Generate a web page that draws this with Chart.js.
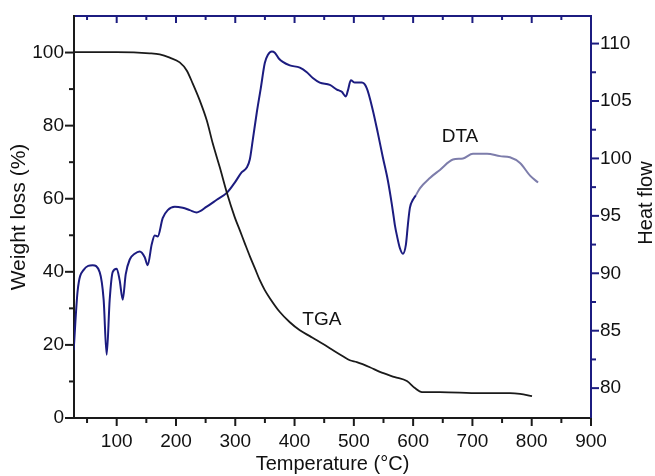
<!DOCTYPE html>
<html>
<head>
<meta charset="utf-8">
<script src="https://cdn.jsdelivr.net/npm/chart.js@4.4.1/dist/chart.umd.min.js"></script>
<style>
  html, body { margin: 0; padding: 0; background: #fff; }
  #wrap { width: 655px; height: 476px; }
</style>
</head>
<body>
<div id="wrap"><canvas id="chart" width="655" height="476"></canvas></div>
<script>
// DTA curve (heat flow, right axis)
const dtaTemp = [27.4, 34.2, 44.3, 59.5, 71.3, 78, 83.1, 88.2, 93.2, 100, 105, 110.2, 115.2, 122,
  130.4, 138.8, 147.3, 152.3, 159, 164.1, 169.2, 177.6, 186.1, 198, 211.4, 223.2, 235, 251.9,
  268.8, 285.7, 299.2, 311, 319.4, 324.5, 329.5, 336.3, 343, 349.8, 354.9, 361.6, 366.7, 373.4,
  380.2, 392, 408.9, 420.7, 430.8, 442.6, 459.5, 471.3, 479.7, 486.5, 489.9, 494.9, 501.7, 513.5,
  521.9, 532, 540.5, 548.9, 557.3, 564.1, 567.5, 569.2, 572.6, 577.6, 582.7, 587.8, 591.1, 594.5,
  599.6, 604.6, 611.4, 628.3, 645.2, 667.2, 684.1, 700.9, 724.6, 746.6, 763.3, 780.3, 797.2, 810.7];
const dtaHeat = [83.3, 88.5, 90.3, 90.7, 90.1, 87.7, 82.9, 87.7, 90.1, 90.4, 89.4, 87.7, 89.9, 91.2,
  91.7, 91.9, 91.4, 90.7, 92.5, 93.3, 93.2, 94.8, 95.5, 95.8, 95.7, 95.5, 95.3, 95.8,
  96.4, 97.0, 97.9, 98.8, 99.2, 99.9, 101.6, 104.0, 106.1, 108.3, 109.0, 109.3, 109.2, 108.7,
  108.4, 108.1, 107.9, 107.5, 107.0, 106.6, 106.4, 106.0, 105.8, 105.4, 105.9, 106.8, 106.6, 106.6,
  106.1, 104.2, 102.2, 100.1, 98.1, 96.0, 94.8, 94.2, 93.3, 92.2, 91.7, 92.5, 94.2, 95.7,
  96.4, 96.8, 97.4, 98.3, 99.0, 99.9, 100.0, 100.4, 100.4, 100.2, 100.1, 99.6, 98.5, 97.9];

// TGA curve (weight loss, left axis)
const tgaTemp = [27.4, 100, 155.7, 172.6, 189.5, 206.3, 218.1, 228.3, 240.1, 252, 262.1, 273.9,
  285.7, 299.2, 307.6, 316.1, 324.5, 333, 341.4, 349.8, 358.3, 375.2, 392, 408.9, 425.8, 437.6,
  459.5, 481.5, 493.2, 505, 527, 543.9, 569.2, 589.5, 603, 614.8, 645.2, 712.7, 763.3, 780.3, 800.5];
const tgaWeight = [100.1, 100.1, 99.8, 99.5, 98.6, 97.3, 95.1, 91.5, 86.9, 81.4, 75.1, 68.6,
  61.7, 54.9, 51.4, 47.8, 44.3, 41.0, 37.7, 35.0, 32.8, 29.0, 26.2, 24.0, 22.4, 21.3,
  19.1, 16.9, 15.8, 15.3, 13.9, 12.6, 11.2, 10.1, 8.2, 7.1, 7.1, 6.8, 6.8, 6.6, 6.0];

// axis ticks
const tempTicks = [100, 200, 300, 400, 500, 600, 700, 800, 900];
const tempMinor = [50, 150, 250, 350, 450, 550, 650, 750, 850];
const weightTicks = [0, 20, 40, 60, 80, 100];
const weightMinor = [10, 30, 50, 70, 90];
const heatTicks = [80, 85, 90, 95, 100, 105, 110];
const heatMinor = [82.5, 87.5, 92.5, 97.5, 102.5, 107.5];

const NAVY = '#1c1c80';
const NAVY_LIGHT = '#7d7dab';
const BLACK = '#1a1a1a';
const FONT = "'Liberation Sans', Arial, Helvetica, sans-serif";

const toPoints = (xs, ys) => xs.map((t, i) => ({ x: t, y: ys[i] }));

// draws the tick marks (major/minor) and the curve labels
const tickMarks = {
    id: 'tickMarks',
    afterDraw(chart) {
        const ctx = chart.ctx;
        const { x, y, y2 } = chart.scales;
        const area = chart.chartArea;
        const line = (x1, y1, x2, y2c) => {
            ctx.beginPath();
            ctx.moveTo(x1, y1);
            ctx.lineTo(x2, y2c);
            ctx.stroke();
        };
        ctx.save();
        ctx.lineWidth = 2;

        // bottom axis, ticks outward
        ctx.strokeStyle = BLACK;
        tempTicks.forEach(v => { const px = x.getPixelForValue(v); line(px, area.bottom, px, area.bottom + 8); });
        tempMinor.forEach(v => { const px = x.getPixelForValue(v); line(px, area.bottom, px, area.bottom + 5); });

        // left axis, ticks outward
        weightTicks.forEach(v => { const py = y.getPixelForValue(v); line(area.left, py, area.left - 9, py); });
        weightMinor.forEach(v => { const py = y.getPixelForValue(v); line(area.left, py, area.left - 5, py); });

        // top axis, ticks inward
        ctx.strokeStyle = NAVY;
        tempTicks.slice(0, -1).forEach(v => { const px = x.getPixelForValue(v); line(px, area.top, px, area.top + 7); });
        tempMinor.forEach(v => { const px = x.getPixelForValue(v); line(px, area.top, px, area.top + 4); });

        // right axis, ticks outward
        heatTicks.forEach(v => { const py = y2.getPixelForValue(v); line(area.right, py, area.right + 8, py); });
        heatMinor.forEach(v => { const py = y2.getPixelForValue(v); line(area.right, py, area.right + 5, py); });

        // curve labels
        ctx.fillStyle = '#111';
        ctx.font = '19px ' + FONT;
        ctx.textAlign = 'center';
        ctx.textBaseline = 'middle';
        ctx.fillText('TGA', x.getPixelForValue(446), y.getPixelForValue(26.8));
        ctx.fillText('DTA', x.getPixelForValue(679), y2.getPixelForValue(101.9));

        // right axis title, reading bottom to top
        ctx.save();
        ctx.translate(646, 203);
        ctx.rotate(-Math.PI / 2);
        ctx.font = '20px ' + FONT;
        ctx.fillText('Heat flow', 0, 0);
        ctx.restore();

        ctx.restore();
    }
};

new Chart(document.getElementById('chart'), {
    type: 'line',
    data: {
        datasets: [{
            label: 'TGA',
            data: toPoints(tgaTemp, tgaWeight),
            yAxisID: 'y',
            borderColor: BLACK,
            borderWidth: 1.8,
            pointRadius: 0,
            cubicInterpolationMode: 'monotone'
        }, {
            label: 'DTA',
            data: toPoints(dtaTemp, dtaHeat),
            yAxisID: 'y2',
            borderColor: NAVY,
            borderWidth: 2,
            pointRadius: 0,
            cubicInterpolationMode: 'monotone',
            segment: {
                borderColor: ctx => ctx.p0.parsed.x >= 604 ? NAVY_LIGHT : NAVY
            }
        }]
    },
    options: {
        responsive: false,
        animation: false,
        layout: { padding: 0 },
        plugins: {
            legend: { display: false },
            tooltip: { enabled: false }
        },
        scales: {
            x: {
                type: 'linear',
                position: 'bottom',
                min: 28,
                max: 900,
                afterBuildTicks: s => { s.ticks = tempTicks.map(v => ({ value: v })); },
                afterFit: s => { s.height = 58; s.paddingLeft = 0; s.paddingRight = 0; },
                grid: { display: false, drawTicks: false },
                border: { display: true, color: BLACK, width: 2 },
                ticks: { color: '#111', padding: 12, maxRotation: 0, font: { size: 19, family: FONT } },
                title: {
                    display: true,
                    text: 'Temperature (°C)',
                    color: '#111',
                    padding: { top: 0, bottom: 0 },
                    font: { size: 20, family: FONT }
                }
            },
            xTop: {
                type: 'linear',
                position: 'top',
                min: 28,
                max: 900,
                afterFit: s => { s.height = 16; s.paddingLeft = 0; s.paddingRight = 0; },
                grid: { display: false, drawTicks: false },
                border: { display: true, color: NAVY, width: 2 },
                ticks: { display: false }
            },
            y: {
                type: 'linear',
                position: 'left',
                min: 0,
                max: 110,
                afterBuildTicks: s => { s.ticks = weightTicks.map(v => ({ value: v })); },
                afterFit: s => { s.width = 74; s.paddingTop = 0; s.paddingBottom = 0; },
                grid: { display: false, drawTicks: false },
                border: { display: true, color: BLACK, width: 2 },
                ticks: { color: '#111', padding: 10, font: { size: 19, family: FONT } },
                title: {
                    display: true,
                    text: 'Weight loss (%)',
                    color: '#111',
                    padding: { top: 7, bottom: 0 },
                    font: { size: 21, family: FONT }
                }
            },
            y2: {
                type: 'linear',
                position: 'right',
                min: 77.4,
                max: 112.4,
                afterBuildTicks: s => { s.ticks = heatTicks.map(v => ({ value: v })); },
                afterFit: s => { s.width = 64; s.paddingTop = 0; s.paddingBottom = 0; },
                grid: { display: false, drawTicks: false },
                border: { display: true, color: NAVY, width: 2 },
                ticks: { color: '#111', padding: 9, font: { size: 19, family: FONT } }
            }
        }
    },
    plugins: [tickMarks]
});
</script>
</body>
</html>
